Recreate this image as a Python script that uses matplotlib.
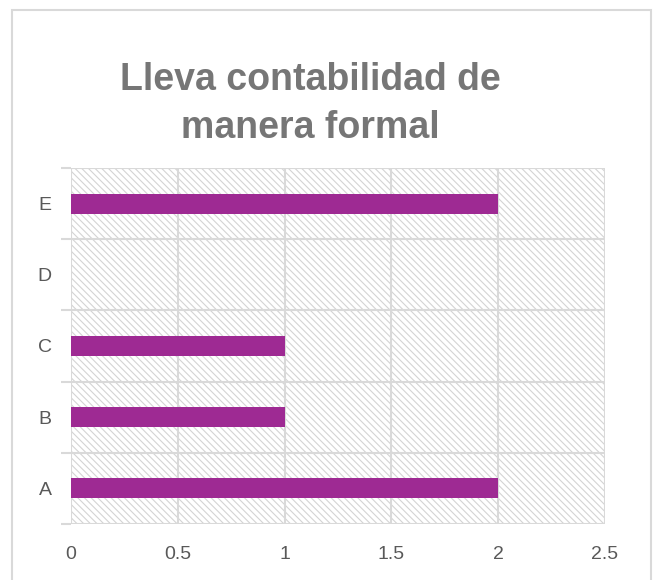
import matplotlib.pyplot as plt
from matplotlib.patches import Rectangle
import numpy as np

categories = ["A", "B", "C", "D", "E"]
values = [2, 1, 1, 0, 2]
x_ticks = [0, 0.5, 1, 1.5, 2, 2.5]
x_tick_labels = ["0", "0.5", "1", "1.5", "2", "2.5"]

plt.rcParams['font.family'] = ['Liberation Sans', 'DejaVu Sans']
plt.rcParams['hatch.linewidth'] = 0.8

fig = plt.figure(figsize=(6.54, 5.80), dpi=100)
# outer chart border
fig.patches.append(Rectangle((12 / 654, -0.01), 639 / 654, 1 - 10 / 580 + 0.01,
                             transform=fig.transFigure, fill=False,
                             edgecolor='#d9d9d9', linewidth=1.5))

ax = fig.add_axes([71 / 654, 56 / 580, 534 / 654, 356 / 580])
ax.set_xlim(0, 2.5)
ax.set_ylim(-0.5, 4.5)

# hatched plot area
ax.add_patch(Rectangle((0, -0.5), 2.5, 5, facecolor='white', edgecolor='#d4d4d4',
                       linewidth=0, hatch='\\\\\\\\\\', zorder=0))

y = np.arange(len(categories))
ax.barh(y, values, height=0.28, color='#9e2a93', zorder=3)

for xv in x_ticks:
    ax.axvline(xv, color='#d9d9d9', linewidth=1.5, zorder=1)
for yv in np.arange(-0.5, 5, 1):
    ax.axhline(yv, color='#d9d9d9', linewidth=1.5, zorder=1)

ax.set_xticks(x_ticks)
ax.set_xticklabels(x_tick_labels)
ax.set_yticks(y)
ax.set_yticklabels(categories)
ax.set_yticks(np.arange(-0.5, 5, 1), minor=True)
ax.tick_params(axis='both', which='major', length=0, labelsize=14, labelcolor='#595959')
ax.tick_params(axis='x', pad=16)
ax.tick_params(axis='y', pad=14)
ax.tick_params(axis='y', which='minor', length=7, color='#d9d9d9', width=1.5)
for s in ax.spines.values():
    s.set_visible(False)

fig.text(310 / 654, 1 - 104 / 580, "Lleva contabilidad de\nmanera formal",
         ha='center', va='center', fontsize=27, fontweight='bold',
         color='#767676', linespacing=1.45)

fig.savefig("out.png", dpi=100)
